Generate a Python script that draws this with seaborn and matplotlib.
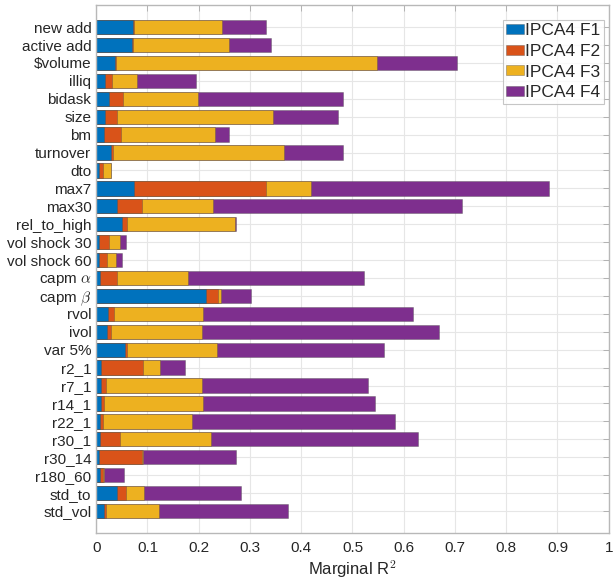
import numpy as np
import pandas as pd
import matplotlib
matplotlib.use("Agg")
import matplotlib.pyplot as plt
import seaborn as sns

categories = ["new add", "active add", "$volume", "illiq", "bidask", "size", "bm",
              "turnover", "dto", "max7", "max30", "rel_to_high", "vol shock 30",
              "vol shock 60", r"capm $\alpha$", r"capm $\beta$", "rvol", "ivol", "var 5%",
              "r2_1", "r7_1", "r14_1", "r22_1", "r30_1", "r30_14", "r180_60",
              "std_to", "std_vol"]

f1 = [0.072, 0.070, 0.037, 0.018, 0.025, 0.018, 0.015, 0.028, 0.006, 0.074, 0.041,
      0.051, 0.006, 0.006, 0.007, 0.214, 0.023, 0.021, 0.056, 0.009, 0.010, 0.010,
      0.008, 0.008, 0.006, 0.008, 0.040, 0.016]
f2 = [0.001, 0.002, 0.002, 0.013, 0.028, 0.023, 0.034, 0.004, 0.008, 0.257, 0.049,
      0.009, 0.019, 0.015, 0.034, 0.024, 0.012, 0.008, 0.004, 0.083, 0.009, 0.005,
      0.006, 0.039, 0.084, 0.006, 0.019, 0.003]
f3 = [0.173, 0.188, 0.509, 0.048, 0.146, 0.303, 0.182, 0.335, 0.014, 0.088, 0.137,
      0.211, 0.022, 0.018, 0.138, 0.006, 0.173, 0.177, 0.176, 0.033, 0.188, 0.194,
      0.172, 0.176, 0.002, 0.002, 0.035, 0.104]
f4 = [0.086, 0.081, 0.155, 0.116, 0.282, 0.127, 0.029, 0.115, 0.001, 0.465, 0.486,
      0.002, 0.012, 0.012, 0.344, 0.058, 0.411, 0.463, 0.326, 0.048, 0.323, 0.335,
      0.397, 0.405, 0.181, 0.038, 0.189, 0.252]

series_names = ["IPCA4 F1", "IPCA4 F2", "IPCA4 F3", "IPCA4 F4"]
colors = ["#0072BD", "#D95319", "#EDB120", "#7E2F8E"]

sns.set_style("white")
plt.rcParams["font.family"] = ["Liberation Sans", "DejaVu Sans"]
plt.rcParams["mathtext.fontset"] = "cm"

fig = plt.figure(figsize=(6.13, 5.83), dpi=100)
ax = fig.add_axes([0.157, 0.086, 0.836, 0.905])

vals = np.array([f1, f2, f3, f4])
cum = np.cumsum(vals, axis=0)
labels_disp = [c.replace("$volume", r"\$volume") for c in categories]

# draw from the total (largest) to the smallest so each segment is visible
for i in range(3, -1, -1):
    df = pd.DataFrame({"cat": labels_disp, "val": cum[i]})
    sns.barplot(data=df, x="val", y="cat", orient="h", color=colors[i],
                width=0.8, saturation=1, edgecolor=(0.3, 0.3, 0.3, 0.5),
                linewidth=0.5, ax=ax, label=series_names[i], zorder=2)

ax.set_xlim(0, 1)
ax.set_ylim(len(categories) - 1 + 1.22, -1.22)
ax.set_xticks(np.arange(0, 1.01, 0.1))
ax.set_xticklabels(["0", "0.1", "0.2", "0.3", "0.4", "0.5", "0.6", "0.7", "0.8", "0.9", "1"])
ax.set_ylabel("")
ax.set_xlabel(r"Marginal R$^2$", fontsize=12, color="#262626", labelpad=2)
ax.tick_params(axis="both", labelsize=11, direction="in",
               length=4, width=0.6, right=True, top=True,
               colors="#aaaaaa", labelcolor="#262626")
ax.tick_params(axis="x", pad=6)
ax.grid(True, color="#e6e6e6", linewidth=0.8)
ax.set_axisbelow(True)
for s in ax.spines.values():
    s.set_color("#b8b8b8")
    s.set_linewidth(1.0)

handles, labels = ax.get_legend_handles_labels()
order = [labels.index(n) for n in series_names]
leg = ax.legend([handles[k] for k in order], series_names, loc="upper right",
                bbox_to_anchor=(0.991, 0.972), fontsize=12.5, frameon=True,
                fancybox=False, edgecolor="#b8b8b8", handlelength=1.0,
                handleheight=0.5, handletextpad=0.1, borderpad=0.2,
                labelspacing=0.32, borderaxespad=0.0)
leg.get_frame().set_linewidth(0.8)

fig.savefig("out.png", dpi=100)
